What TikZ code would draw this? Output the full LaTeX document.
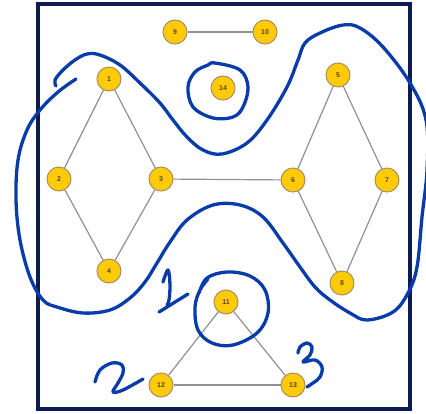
\documentclass[tikz,border=0pt]{standalone}
\usepackage{fontspec}
\setsansfont{Liberation Sans}
\definecolor{navy}{RGB}{12,28,82}
\definecolor{pen}{RGB}{8,60,170}
\definecolor{vfill}{RGB}{255,202,8}
\definecolor{vdraw}{RGB}{165,145,95}
\definecolor{vtext}{RGB}{90,70,25}
\definecolor{edgegray}{RGB}{145,145,145}
\tikzset{
  vert/.style={circle,fill=vfill,draw=vdraw,line width=1pt,minimum size=24pt,inner sep=0pt,
    font=\sffamily\bfseries\fontsize{7}{7}\selectfont,text=vtext},
  edg/.style={draw=edgegray,line width=1.2pt},
  ink/.style={draw=pen,line width=3.3pt,line cap=round,line join=round},
  frame/.style={draw=navy,line width=4pt}
}
\begin{document}
\begin{tikzpicture}[x=1pt,y=-1pt]
\useasboundingbox (0,0) rectangle (426,413);
\fill[white] (0,0) rectangle (426,413);
\draw[frame] (37.5,4) rectangle (410,409);
% vertices
\node[vert] (n9) at (175,32) {9};
\node[vert] (n10) at (265,32) {10};
\node[vert] (n1) at (109,79) {1};
\node[vert] (n14) at (223,88) {14};
\node[vert] (n5) at (338,75) {5};
\node[vert] (n2) at (59,179) {2};
\node[vert] (n3) at (161,179) {3};
\node[vert] (n6) at (293,180) {6};
\node[vert] (n7) at (387,180) {7};
\node[vert] (n4) at (109,271) {4};
\node[vert] (n8) at (342,283) {8};
\node[vert] (n11) at (226,302) {11};
\node[vert] (n12) at (161,385) {12};
\node[vert] (n13) at (293,385) {13};
% edges
\draw[edg] (n9) -- (n10);
\draw[edg] (n1) -- (n2);
\draw[edg] (n1) -- (n3);
\draw[edg] (n2) -- (n4);
\draw[edg] (n3) -- (n4);
\draw[edg] (n3) -- (n6);
\draw[edg] (n5) -- (n6);
\draw[edg] (n5) -- (n7);
\draw[edg] (n6) -- (n8);
\draw[edg] (n7) -- (n8);
\draw[edg] (n11) -- (n12);
\draw[edg] (n11) -- (n13);
\draw[edg] (n12) -- (n13);
% ink strokes
\begin{scope}
\clip (0,0) rectangle (426,413);
\draw[ink] plot[smooth,tension=0.6] coordinates {
(76,79) (58,92) (40,110) (27,130) (18,160) (16,200) (20,240) (30,277) (43,300)
(57,307) (83,313) (110,310) (130,298) (145,282) (157,263) (170,242) (187,220)
(213,205) (240,205) (263,217) (283,243) (300,267) (315,287) (330,300) (350,313)
(367,320) (393,312) (408,293) (417,267) (422,217) (427,170) (426,120) (410,83)
(383,47) (360,28) (343,25) (320,33) (305,43) (298,60) (287,87) (267,120)
(247,143) (222,154) (203,150) (187,137) (173,120) (160,103) (140,83) (120,65)
(100,55) (87,54) (75,60) (63,70) (55,80) (56,86)};
\end{scope}
\draw[ink] plot[smooth cycle,tension=0.6] coordinates {
(215,63) (240,70) (248,87) (243,107) (233,117) (213,118) (193,107) (188,87) (195,72) (208,65)};
\draw[ink] plot[smooth,tension=0.6] coordinates {
(199,293) (207,278) (227,272) (250,276) (265,290) (268,313) (257,333) (233,345)
(212,343) (198,330) (195,307) (200,290) (208,279)};
% handwritten 1
\draw[ink] plot[smooth,tension=0.6] coordinates {(163,282) (168,270) (170,285) (169,300) (167,305)};
\draw[ink] (159,312) -- (188,294);
% handwritten 2
\draw[ink] plot[smooth,tension=0.6] coordinates {
(95,382) (100,370) (112,363) (122,365) (123,373) (118,383) (113,392) (123,390) (143,379)};
% handwritten 3
\draw[ink] plot[smooth,tension=0.6] coordinates {
(298,353) (300,347) (307,343) (312,347) (310,355) (303,362) (315,360) (322,367) (320,377) (313,383) (307,387)};
\end{tikzpicture}
\end{document}
